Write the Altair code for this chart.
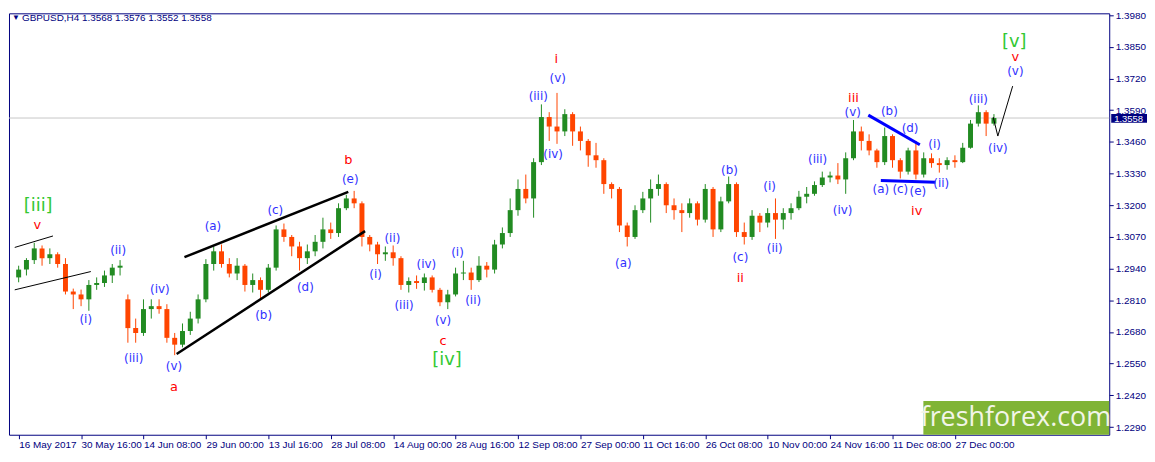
import altair as alt
import pandas as pd

# ---------------- data ----------------
opens = [1.2904,1.2936,1.2975,1.3023,1.2983,1.2999,1.2959,1.2846,1.2834,1.2814,
         1.2873,1.2881,1.2912,1.2944,1.2814,1.2696,1.2676,1.2774,1.2786,1.2774,
         1.2656,1.2628,1.2684,1.2735,1.2814,1.2959,1.3011,1.2959,1.2920,1.2952,
         1.2873,1.2893,1.2853,1.2944,1.3101,1.3070,1.3031,1.2983,1.3011,1.3050,
         1.3101,1.3086,1.3188,1.3228,1.3208,1.3070,1.3039,1.2999,1.3007,1.2983,
         1.2873,1.2889,1.2881,1.2904,1.2853,1.2802,1.2834,1.2920,1.2924,1.2893,
         1.2952,1.2936,1.3039,1.3086,1.3180,1.3267,1.3228,1.3377,1.3562,1.3523,
         1.3503,1.3574,1.3503,1.3464,1.3405,1.3385,1.3287,1.3267,1.3117,1.3070,
         1.3180,1.3228,1.3267,1.3287,1.3200,1.3180,1.3168,1.3208,1.3141,1.3267,
         1.3101,1.3216,1.3287,1.3090,1.3070,1.3157,1.3129,1.3168,1.3141,1.3168,
         1.3188,1.3235,1.3247,1.3283,1.3314,1.3322,1.3306,1.3393,1.3503,1.3464,
         1.3425,1.3377,1.3484,1.3385,1.3338,1.3425,1.3326,1.3393,1.3373,1.3365,
         1.3385,1.3377,1.3436,1.3535,1.3582,1.3535]
highs = [1.2952,1.2983,1.3046,1.3035,1.3023,1.3007,1.2983,1.2858,1.2854,1.2893,
         1.2904,1.2932,1.2959,1.2975,1.2834,1.2735,1.2814,1.2814,1.2814,1.2794,
         1.2676,1.2715,1.2763,1.2834,1.2979,1.3031,1.3039,1.2983,1.2983,1.2959,
         1.2920,1.2904,1.2959,1.3117,1.3125,1.3078,1.3050,1.3039,1.3078,1.3149,
         1.3129,1.3208,1.3243,1.3259,1.3216,1.3078,1.3050,1.3031,1.3035,1.2991,
         1.2904,1.2912,1.2920,1.2912,1.2861,1.2853,1.2944,1.2972,1.2944,1.2991,
         1.2967,1.3058,1.3109,1.3228,1.3306,1.3326,1.3393,1.3614,1.3582,1.3661,
         1.3594,1.3582,1.3523,1.3472,1.3456,1.3393,1.3294,1.3275,1.3129,1.3200,
         1.3255,1.3306,1.3326,1.3294,1.3228,1.3208,1.3228,1.3216,1.3287,1.3275,
         1.3235,1.3318,1.3294,1.3129,1.3180,1.3168,1.3188,1.3228,1.3188,1.3208,
         1.3259,1.3275,1.3298,1.3338,1.3338,1.3373,1.3417,1.3550,1.3523,1.3491,
         1.3432,1.3519,1.3491,1.3393,1.3436,1.3464,1.3417,1.3413,1.3393,1.3397,
         1.3405,1.3456,1.3550,1.3610,1.3590,1.3574]
lows = [1.2884,1.2912,1.2959,1.2952,1.2959,1.2944,1.2834,1.2774,1.2786,1.2767,
        1.2853,1.2865,1.2881,1.2912,1.2636,1.2636,1.2664,1.2735,1.2755,1.2636,
        1.2585,1.2617,1.2668,1.2715,1.2802,1.2932,1.2944,1.2904,1.2893,1.2846,
        1.2842,1.2818,1.2842,1.2932,1.3050,1.2991,1.2932,1.2959,1.2991,1.3023,
        1.3062,1.3070,1.3180,1.3188,1.3031,1.3011,1.2959,1.2972,1.2952,1.2853,
        1.2842,1.2857,1.2850,1.2842,1.2786,1.2774,1.2826,1.2893,1.2853,1.2885,
        1.2904,1.2920,1.3023,1.3070,1.3157,1.3208,1.3149,1.3365,1.3464,1.3452,
        1.3484,1.3444,1.3425,1.3358,1.3354,1.3247,1.3228,1.3090,1.3031,1.3062,
        1.3168,1.3129,1.3239,1.3168,1.3141,1.3090,1.3149,1.3117,1.3129,1.3070,
        1.3090,1.3208,1.3070,1.3039,1.3058,1.3090,1.3109,1.3062,1.3101,1.3141,
        1.3180,1.3208,1.3239,1.3275,1.3294,1.3287,1.3247,1.3385,1.3425,1.3405,
        1.3354,1.3365,1.3354,1.3310,1.3326,1.3306,1.3314,1.3354,1.3334,1.3346,
        1.3354,1.3373,1.3432,1.3523,1.3484,1.3527]
closes = [1.2936,1.2975,1.3023,1.2983,1.2999,1.2959,1.2846,1.2834,1.2814,1.2873,
          1.2881,1.2912,1.2944,1.2952,1.2696,1.2676,1.2774,1.2786,1.2774,1.2656,
          1.2628,1.2684,1.2735,1.2814,1.2959,1.3011,1.2959,1.2920,1.2952,1.2873,
          1.2893,1.2853,1.2944,1.3101,1.3070,1.3031,1.2983,1.3011,1.3050,1.3101,
          1.3086,1.3188,1.3228,1.3208,1.3070,1.3039,1.2999,1.3007,1.2983,1.2873,
          1.2889,1.2881,1.2904,1.2853,1.2802,1.2834,1.2920,1.2924,1.2893,1.2952,
          1.2936,1.3039,1.3086,1.3180,1.3267,1.3228,1.3377,1.3562,1.3523,1.3503,
          1.3574,1.3503,1.3464,1.3405,1.3385,1.3287,1.3267,1.3117,1.3070,1.3180,
          1.3228,1.3267,1.3287,1.3200,1.3180,1.3168,1.3208,1.3141,1.3267,1.3101,
          1.3216,1.3287,1.3090,1.3070,1.3157,1.3129,1.3168,1.3141,1.3168,1.3188,
          1.3235,1.3247,1.3283,1.3314,1.3322,1.3306,1.3393,1.3503,1.3464,1.3425,
          1.3377,1.3484,1.3385,1.3338,1.3425,1.3326,1.3393,1.3373,1.3365,1.3385,
          1.3377,1.3436,1.3535,1.3582,1.3535,1.3558]

date_labels = ["16 May 2017", "30 May 16:00", "14 Jun 08:00", "29 Jun 00:00",
               "13 Jul 16:00", "28 Jul 08:00", "14 Aug 00:00", "28 Aug 16:00",
               "12 Sep 08:00", "27 Sep 00:00", "11 Oct 16:00", "26 Oct 08:00",
               "10 Nov 00:00", "24 Nov 16:00", "11 Dec 08:00", "27 Dec 00:00"]
date_tick_idx = [0, 8, 16, 24, 32, 40, 48, 56, 64, 72, 80, 88, 96, 104, 112, 120]
price_ticks = [1.2290, 1.2420, 1.2550, 1.2680, 1.2810, 1.2940, 1.3070,
               1.3200, 1.3330, 1.3460, 1.3590, 1.3720, 1.3850, 1.3980]

blue_labels = ["(i)", "(ii)", "(iii)", "(iv)", "(v)", "(a)", "(b)", "(c)", "(d)", "(e)",
               "(i)", "(ii)", "(iii)", "(iv)", "(v)", "(i)", "(ii)", "(iii)", "(iv)", "(v)",
               "(a)", "(b)", "(c)", "(i)", "(ii)", "(iii)", "(iv)", "(v)", "(b)", "(d)",
               "(i)", "(a)", "(c)", "(e)", "(ii)", "(iii)", "(iv)", "(v)"]
blue_idx = [8.6, 12.75, 14.75, 18.1, 19.9, 24.9, 31.4, 32.9, 36.75, 42.5,
            45.75, 47.9, 49.4, 52.25, 54.4, 56.25, 58.25, 66.6, 68.5, 69.1,
            77.5, 91.1, 92.5, 96.25, 96.9, 102.4, 105.6, 106.9, 111.6, 114.25,
            117.4, 110.5, 113.0, 115.25, 118.25, 123.0, 125.5, 127.75]
blue_price = [1.2735, 1.3015, 1.2574, 1.2857, 1.2542, 1.3113, 1.2751, 1.3180, 1.2865, 1.3306,
              1.2916, 1.3066, 1.2790, 1.2960, 1.2731, 1.3007, 1.2810, 1.3649, 1.3409, 1.3724,
              1.2964, 1.3346, 1.2987, 1.3279, 1.3023, 1.3389, 1.3180, 1.3584, 1.3586, 1.3519,
              1.3452, 1.3267, 1.3267, 1.3259, 1.3291, 1.3637, 1.3436, 1.3752]

red_labels = ["v", "a", "b", "c", "i", "ii", "iii", "iv", "v"]
red_idx = [2.4, 19.9, 42.25, 54.4, 68.9, 92.5, 107.0, 115.1, 127.75]
red_price = [1.3117, 1.2455, 1.3385, 1.2641, 1.3799, 1.2901, 1.3641, 1.3176, 1.3807]

green_labels = ["[iii]", "[iv]", "[v]"]
green_idx = [2.5, 54.9, 127.6]
green_price = [1.3196, 1.2566, 1.3870]

# trend lines: (line id, index, price)
thick_id = ["wu", "wu", "wl", "wl"]
thick_idx = [21.25, 42.25, 20.25, 44.4]
thick_price = [1.2987, 1.3255, 1.2590, 1.3094]

thin_id = ["cu", "cu", "cl", "cl", "pr", "pr", "pr"]
thin_idx = [-0.5, 4.4, -0.5, 9.25, 124.9, 125.5, 127.4]
thin_price = [1.3027, 1.3074, 1.2853, 1.2928, 1.3562, 1.3484, 1.3689]

blue_line_id = ["bu", "bu", "bl", "bl"]
blue_line_idx = [108.9, 115.5, 110.5, 117.5]
blue_line_price = [1.3570, 1.3448, 1.3302, 1.3294]

last_price = 1.3558
title_text = "GBPUSD,H4  1.3568 1.3576 1.3552 1.3558"

# ---------------- layout ----------------
W, H = 1107, 424
NAVY = "#000080"
AXFONT = "Liberation Sans"

x_scale = alt.Scale(domain=[-0.6, 139.14], nice=False, zero=False)
y_scale = alt.Scale(domain=[1.22584, 1.39876], nice=False, zero=False)

label_js = "[" + ",".join("'%s'" % s for s in date_labels) + "]"
x_axis = alt.Axis(values=date_tick_idx, labelExpr=label_js + "[round(datum.value/8)]",
                  labelAlign="left", labelPadding=1, tickSize=4, tickColor=NAVY,
                  labelColor=NAVY, labelFont=AXFONT, labelFontSize=10, domain=False,
                  grid=False, title=None, labelOverlap=False, labelFlush=False)
y_axis = alt.Axis(orient="right", values=price_ticks, format=".4f", tickSize=4,
                  tickColor=NAVY, labelColor=NAVY, labelFont=AXFONT, labelFontSize=10,
                  labelPadding=2, domain=False, grid=False, title=None, labelOverlap=False)

def X(field):
    return alt.X(field, type="quantitative", scale=x_scale, axis=x_axis)

def Y(field):
    return alt.Y(field, type="quantitative", scale=y_scale, axis=y_axis)

candles = pd.DataFrame({"idx": list(range(len(closes))), "o": opens, "h": highs,
                        "l": lows, "c": closes})
candles["dir"] = ["up" if c > o else ("down" if c < o else "flat")
                  for o, c in zip(candles.o, candles.c)]
col = alt.Color("dir:N", scale=alt.Scale(domain=["up", "down", "flat"],
                                         range=["#228b22", "#ff4500", "#000000"]),
                legend=None)

price_line = alt.Chart(pd.DataFrame({"p": [last_price]})).mark_rule(
    color="#c8c8c8", strokeWidth=1).encode(y=Y("p"))

wicks = alt.Chart(candles).mark_rule(strokeWidth=1).encode(
    x=X("idx"), y=Y("l"), y2="h", color=col)
bodies = alt.Chart(candles).mark_bar(size=5).encode(
    x=X("idx"), y=Y("o"), y2="c", color=col)

thick_df = pd.DataFrame({"id": thick_id, "i": thick_idx, "p": thick_price})
thin_df = pd.DataFrame({"id": thin_id, "i": thin_idx, "p": thin_price,
                        "k": list(range(len(thin_id)))})
bl_df = pd.DataFrame({"id": blue_line_id, "i": blue_line_idx, "p": blue_line_price})

thick_lines = alt.Chart(thick_df).mark_line(color="black", strokeWidth=2.5).encode(
    x=X("i"), y=Y("p"), detail="id:N")
thin_lines = alt.Chart(thin_df).mark_line(color="black", strokeWidth=1).encode(
    x=X("i"), y=Y("p"), detail="id:N", order="k:Q")
blue_lines = alt.Chart(bl_df).mark_line(color="#0000ff", strokeWidth=3).encode(
    x=X("i"), y=Y("p"), detail="id:N")

def labels(texts, idx, price, color, size):
    df = pd.DataFrame({"t": texts, "i": idx, "p": price})
    return alt.Chart(df).mark_text(color=color, fontSize=size, font="DejaVu Sans",
                                   align="center", baseline="middle").encode(
        x=X("i"), y=Y("p"), text="t:N")

blue_txt = labels(blue_labels, blue_idx, blue_price, "#3030ff", 12)
red_txt = labels(red_labels, red_idx, red_price, "#ff0000", 13)
green_txt = labels(green_labels, green_idx, green_price, "#33c833", 18)

one = pd.DataFrame({"t": [title_text]})
title_tri = alt.Chart(one).mark_text(text="\u25bc", color=NAVY, fontSize=8,
                                     align="left", baseline="middle").encode(
    x=alt.value(3), y=alt.value(5))
title_txt = alt.Chart(one).mark_text(color=NAVY, fontSize=10, font=AXFONT,
                                     align="left", baseline="middle").encode(
    x=alt.value(13), y=alt.value(5), text="t:N")

wm = pd.DataFrame({"t": ["freshforex.com"]})
wm_rect = alt.Chart(wm).mark_rect(color="#80b435").encode(
    x=alt.value(920), x2=alt.value(W), y=alt.value(390), y2=alt.value(H))
wm_txt = alt.Chart(wm).mark_text(color="#f2f5e8", fontSize=27, font="Open Sans",
                                 align="center", baseline="middle").encode(
    x=alt.value(1013), y=alt.value(407), text="t:N")

box = pd.DataFrame({"p": [last_price], "hi": [last_price + 0.0017],
                    "lo": [last_price - 0.0019], "t": ["%.4f" % last_price]})
box_rect = alt.Chart(box).mark_rect(color=NAVY, clip=False).encode(
    x=alt.value(W + 2), x2=alt.value(W + 38), y=Y("hi"), y2="lo")
box_txt = alt.Chart(box).mark_text(color="white", fontSize=9.5, font=AXFONT,
                                   align="left", baseline="middle", dy=0.5,
                                   clip=False).encode(
    x=alt.value(W + 5), y=Y("p"), text="t:N")

chart = alt.layer(
    price_line, wicks, bodies, thick_lines, thin_lines, blue_lines,
    blue_txt, red_txt, green_txt, title_tri, title_txt, wm_rect, wm_txt,
    box_rect, box_txt
).properties(width=W, height=H, padding=0, background="white").configure_view(
    stroke=NAVY, strokeWidth=1)

chart.save("out.html", embed_options={"renderer": "svg", "actions": False})
